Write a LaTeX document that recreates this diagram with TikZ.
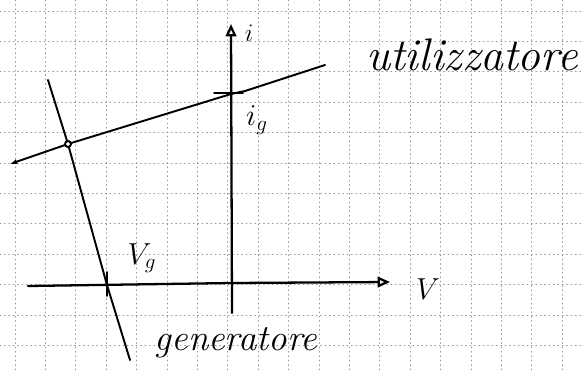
\documentclass[tikz,border=0pt]{standalone}
\usepackage{amsmath}
\usetikzlibrary{arrows.meta}

\begin{document}
\begin{tikzpicture}[x=0.02cm, y=-0.02cm, line cap=round,
  curve/.style={line width=1.1pt},
  axis/.style={line width=1.3pt},
  gridline/.style={black!40, dotted, line width=0.5pt},
  hand/.style={font=\fontsize{21}{24}\selectfont\itshape}]
  \useasboundingbox (0,0) rectangle (581,372);

  % Grid paper
  \foreach \k in {0,...,18}
    \draw[gridline] ({15+30.4*\k},0) -- ({15+30.4*\k},372);
  \foreach \k in {0,...,11}
    \draw[gridline] (0,{11+30.4*\k}) -- (581,{11+30.4*\k});

  % Axes
  \coordinate (vlo) at (232,313);
  \coordinate (vhi) at (231,24);
  \coordinate (hlo) at (28,286);
  \coordinate (hhi) at (390,282);
  \draw[axis, -{Triangle[open, length=7pt, width=6pt]}] (vlo) -- (vhi);
  \draw[axis, -{Triangle[open, length=7pt, width=6pt]}] (hlo) -- (232,283) -- (hhi);
  \node[font=\fontsize{14}{16}\selectfont] (i) at (249,33) {$i$};
  \node[font=\fontsize{17}{19}\selectfont] (V) at (428,289) {$V$};

  % Load line (utilizzatore)
  \coordinate (uL) at (10,164);
  \coordinate (Q) at (68,144);
  \coordinate (ig) at (231,94);
  \coordinate (uR) at (325,65);
  \draw[curve, {Latex[length=4pt, width=3pt]}-] (uL) -- (Q) -- (ig) -- (245,91) -- (uR);
  \draw[curve] (ig) ++(-17,-1) -- ++(29,0);
  \node[font=\fontsize{18}{20}\selectfont] (igl) at (257,120) {$i_g$};
  \node[hand, font=\fontsize{26}{30}\selectfont\itshape] (util) at (472,55) {utilizzatore};

  % Source line (generatore)
  \coordinate (gT) at (48,80);
  \coordinate (vg) at (107,285);
  \coordinate (gB) at (130,360);
  \draw[curve] (gT) -- (Q) -- (vg) -- (gB);
  \draw[curve] (vg) ++(0,-13) -- ++(0,24);
  \node[font=\fontsize{18}{20}\selectfont] (vgl) at (142,258) {$V_g$};
  \node[hand] (gen) at (236,343) {generatore};

  % Operating point
  \draw[curve, fill=white] (Q) circle (3);
\end{tikzpicture}
\end{document}
